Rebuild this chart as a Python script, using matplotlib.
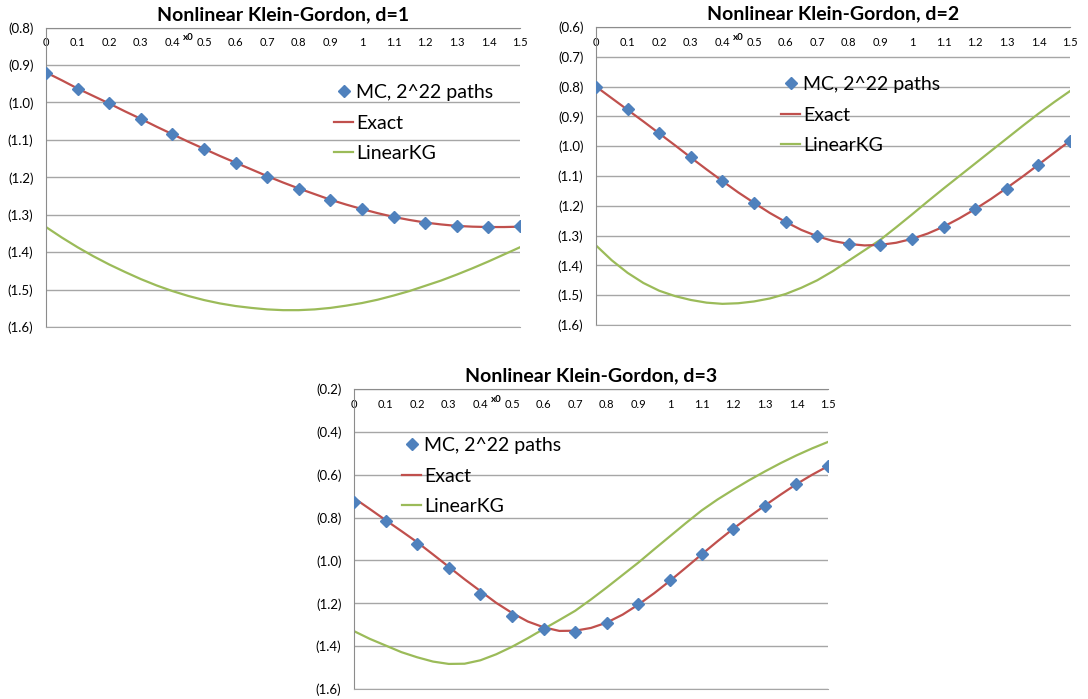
import matplotlib
matplotlib.use("Agg")
import matplotlib.pyplot as plt
from matplotlib.ticker import FuncFormatter, MultipleLocator

plt.rcParams['font.family'] = ['Lato', 'DejaVu Sans']

# x0 values of the MC points (same for every panel)
x0 = [0.0, 0.1, 0.2, 0.3, 0.4, 0.5, 0.6, 0.7, 0.8, 0.9, 1.0, 1.1, 1.2, 1.3, 1.4, 1.5]
x_labels = ["0", "0.1", "0.2", "0.3", "0.4", "0.5", "0.6", "0.7", "0.8", "0.9",
            "1", "1.1", "1.2", "1.3", "1.4", "1.5"]
xc = [0.0, 0.05, 0.1, 0.15, 0.2, 0.25, 0.3, 0.35, 0.4, 0.45, 0.5, 0.55, 0.6, 0.65,
      0.7, 0.75, 0.8, 0.85, 0.9, 0.95, 1.0, 1.05, 1.1, 1.15, 1.2, 1.25, 1.3, 1.35,
      1.4, 1.45, 1.5]

# d=1
mc1 = [-0.922, -0.964, -1.003, -1.044, -1.084, -1.125, -1.162, -1.198,
       -1.231, -1.261, -1.285, -1.306, -1.322, -1.331, -1.334, -1.331]
exact1 = [-0.920, -0.941, -0.963, -0.983, -1.003, -1.024, -1.044, -1.065, -1.085,
          -1.105, -1.124, -1.143, -1.161, -1.179, -1.197, -1.214, -1.230, -1.245,
          -1.260, -1.273, -1.285, -1.296, -1.306, -1.314, -1.321, -1.326, -1.330,
          -1.332, -1.333, -1.333, -1.332]
lin1 = [-1.333, -1.361, -1.387, -1.411, -1.433, -1.453, -1.472, -1.489, -1.504,
        -1.517, -1.528, -1.537, -1.544, -1.549, -1.553, -1.555, -1.555, -1.553,
        -1.549, -1.543, -1.536, -1.527, -1.516, -1.504, -1.490, -1.476, -1.460,
        -1.443, -1.425, -1.406, -1.387]

# d=2
mc2 = [-0.800, -0.876, -0.956, -1.037, -1.118, -1.192, -1.256, -1.303,
       -1.328, -1.331, -1.311, -1.271, -1.211, -1.142, -1.062, -0.982]
exact2 = [-0.800, -0.839, -0.878, -0.917, -0.957, -0.997, -1.038, -1.078, -1.117,
          -1.155, -1.190, -1.224, -1.254, -1.281, -1.302, -1.318, -1.328, -1.333,
          -1.331, -1.324, -1.311, -1.293, -1.270, -1.242, -1.211, -1.177, -1.140,
          -1.102, -1.062, -1.022, -0.982]
lin2 = [-1.333, -1.383, -1.425, -1.459, -1.485, -1.503, -1.516, -1.525, -1.529,
        -1.527, -1.521, -1.511, -1.496, -1.475, -1.450, -1.419, -1.384, -1.349,
        -1.314, -1.272, -1.229, -1.185, -1.142, -1.100, -1.058, -1.016, -0.974,
        -0.932, -0.891, -0.852, -0.815]

# d=3
mc3 = [-0.728, -0.818, -0.921, -1.037, -1.155, -1.260, -1.321, -1.333,
       -1.291, -1.203, -1.093, -0.970, -0.852, -0.744, -0.642, -0.561]
exact3 = [-0.709, -0.760, -0.812, -0.863, -0.915, -0.972, -1.030, -1.088, -1.143,
          -1.198, -1.245, -1.285, -1.312, -1.329, -1.328, -1.315, -1.290, -1.253,
          -1.206, -1.153, -1.095, -1.034, -0.972, -0.911, -0.852, -0.797, -0.744,
          -0.693, -0.644, -0.600, -0.560]
lin3 = [-1.330, -1.366, -1.397, -1.428, -1.452, -1.472, -1.483, -1.482, -1.466,
        -1.438, -1.403, -1.363, -1.320, -1.278, -1.235, -1.182, -1.126, -1.068,
        -1.010, -0.948, -0.887, -0.826, -0.767, -0.716, -0.670, -0.626, -0.585,
        -0.546, -0.510, -0.477, -0.447]

W, H = 1088, 699
fig = plt.figure(figsize=(W / 100, H / 100), dpi=100)

def px_axes(left, top, right, bottom):
    return fig.add_axes([left / W, 1 - bottom / H, (right - left) / W, (bottom - top) / H])

def neg_fmt(v, pos):
    return "({:.1f})".format(abs(v))

def panel(ax, d, mc, exact, lin, ymin, ymax, ystep, leg_xy):
    ax.plot(xc, exact, color="#C0504D", lw=1.6, label="Exact", zorder=3)
    ax.plot(xc, lin, color="#9BBB59", lw=1.6, label="LinearKG", zorder=2)
    ax.plot(x0, mc, "D", color="#4F81BD", ms=5.8, label="MC, 2^22 paths", zorder=4)
    ax.set_xlim(0, 1.5)
    ax.set_ylim(ymin, ymax)
    ax.yaxis.set_major_locator(MultipleLocator(ystep))
    ax.yaxis.set_major_formatter(FuncFormatter(neg_fmt))
    ax.set_xticks(x0)
    ax.set_xticklabels(x_labels)
    ax.xaxis.set_ticks_position("top")
    ax.tick_params(axis="x", length=0, pad=-15, labelsize=8, labeltop=True, labelbottom=False)
    ax.tick_params(axis="y", length=0, pad=9, labelsize=9.5)
    ax.grid(axis="y", color="#A6A6A6", lw=1)
    ax.spines["right"].set_visible(False)
    ax.spines["bottom"].set_color("#A6A6A6")
    ax.spines["top"].set_color("#8C8C8C")
    ax.spines["left"].set_color("#8C8C8C")
    ax.set_title("Nonlinear Klein-Gordon, d={}".format(d), fontsize=14,
                 fontweight="bold", pad=5.5)
    # axis title "x0", squeezed in between the 0.4 and 0.5 labels
    ax.text(0.45, 0.965, "x0", transform=ax.get_xaxis_transform(), fontsize=7,
            fontweight="bold", ha="center", va="center")
    h, l = ax.get_legend_handles_labels()
    order = [2, 0, 1]
    ax.legend([h[i] for i in order], [l[i] for i in order], loc="upper left",
              bbox_to_anchor=(leg_xy[0] / W, 1 - leg_xy[1] / H),
              bbox_transform=fig.transFigure, frameon=False, fontsize=14,
              handlelength=1.0, handletextpad=0.15, labelspacing=0.7,
              borderpad=0, borderaxespad=0)

ax1 = px_axes(46, 27.5, 520, 327)
panel(ax1, 1, mc1, exact1, lin1, -1.6, -0.8, 0.1, (334, 84))

ax2 = px_axes(596, 27, 1070, 325)
panel(ax2, 2, mc2, exact2, lin2, -1.6, -0.6, 0.1, (781, 76))

ax3 = px_axes(354, 389, 828, 689)
panel(ax3, 3, mc3, exact3, lin3, -1.6, -0.2, 0.2, (402, 437))

fig.savefig("out.png", dpi=100)
